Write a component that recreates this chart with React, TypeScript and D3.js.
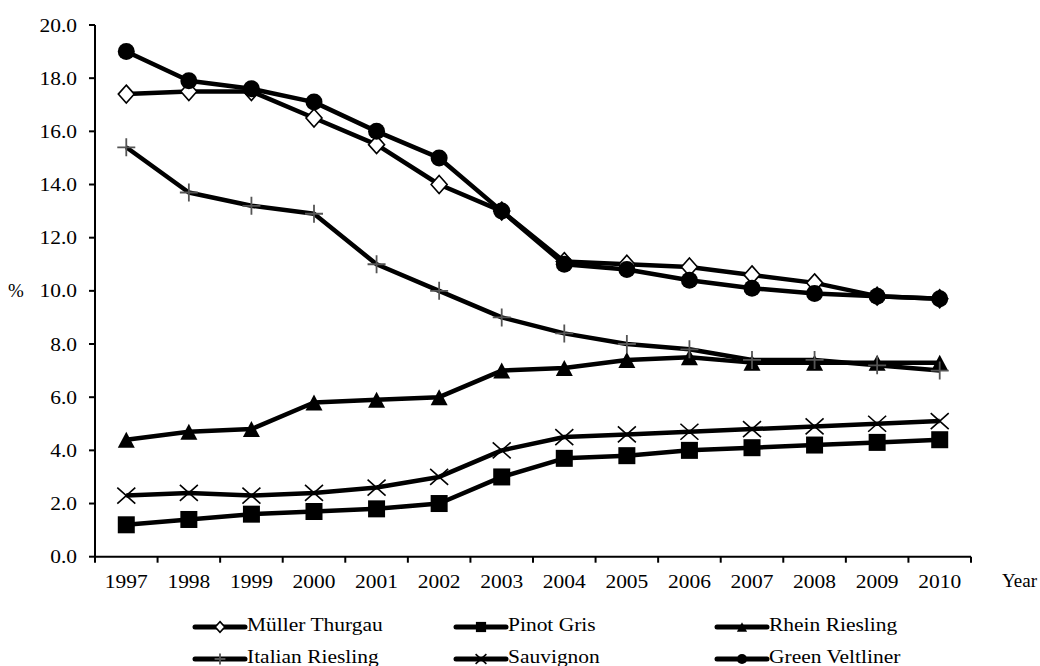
import React, { useRef, useEffect } from 'react';
import * as d3 from 'd3';

const years: string[] = ['1997', '1998', '1999', '2000', '2001', '2002', '2003', '2004', '2005', '2006', '2007', '2008', '2009', '2010'];
const yTicks: number[] = [0, 2, 4, 6, 8, 10, 12, 14, 16, 18, 20];

const mullerThurgau: number[] = [17.4, 17.5, 17.5, 16.5, 15.5, 14.0, 13.0, 11.1, 11.0, 10.9, 10.6, 10.3, 9.8, 9.7];
const pinotGris: number[] = [1.2, 1.4, 1.6, 1.7, 1.8, 2.0, 3.0, 3.7, 3.8, 4.0, 4.1, 4.2, 4.3, 4.4];
const rheinRiesling: number[] = [4.4, 4.7, 4.8, 5.8, 5.9, 6.0, 7.0, 7.1, 7.4, 7.5, 7.3, 7.3, 7.3, 7.3];
const italianRiesling: number[] = [15.4, 13.7, 13.2, 12.9, 11.0, 10.0, 9.0, 8.4, 8.0, 7.8, 7.4, 7.4, 7.2, 7.0];
const sauvignon: number[] = [2.3, 2.4, 2.3, 2.4, 2.6, 3.0, 4.0, 4.5, 4.6, 4.7, 4.8, 4.9, 5.0, 5.1];
const greenVeltliner: number[] = [19.0, 17.9, 17.6, 17.1, 16.0, 15.0, 13.0, 11.0, 10.8, 10.4, 10.1, 9.9, 9.8, 9.7];

type Marker = 'diamond' | 'square' | 'triangle' | 'plus' | 'cross' | 'circle';

interface ISeries {
    name: string;
    values: number[];
    marker: Marker;
}

const series: ISeries[] = [
    { name: 'Müller Thurgau', values: mullerThurgau, marker: 'diamond' },
    { name: 'Pinot Gris', values: pinotGris, marker: 'square' },
    { name: 'Rhein Riesling', values: rheinRiesling, marker: 'triangle' },
    { name: 'Italian Riesling', values: italianRiesling, marker: 'plus' },
    { name: 'Sauvignon', values: sauvignon, marker: 'cross' },
    { name: 'Green Veltliner', values: greenVeltliner, marker: 'circle' },
];

const FONT = "'Liberation Serif', 'DejaVu Serif', serif";
const STRETCH = 1.13;

// draws one marker centred on 0,0; k scales it (legend uses smaller ones)
function drawMarker(g: any, marker: Marker, k: number) {
    if (marker === 'circle') {
        g.append('circle').attr('r', 8.5 * k).attr('fill', '#000');
    } else if (marker === 'square') {
        const s = 17 * k;
        g.append('rect').attr('x', -s / 2).attr('y', -s / 2).attr('width', s).attr('height', s).attr('fill', '#000');
    } else if (marker === 'triangle') {
        const w = 8.5 * k, h = 8 * k;
        g.append('path').attr('d', `M0,${-h}L${w},${h}L${-w},${h}Z`).attr('fill', '#000');
    } else if (marker === 'diamond') {
        const w = 8 * k, h = 9 * k;
        g.append('path').attr('d', `M0,${-h}L${w},0L0,${h}L${-w},0Z`)
            .attr('fill', '#fff').attr('stroke', '#000').attr('stroke-width', 1.6);
    } else if (marker === 'plus') {
        const w = 9 * k, h = 9 * k;
        g.append('path').attr('d', `M${-w},0H${w}M0,${-h}V${h}`)
            .attr('stroke', '#555').attr('stroke-width', 1.8).attr('fill', 'none');
    } else if (marker === 'cross') {
        const w = 9 * k, h = 8 * k;
        g.append('path').attr('d', `M${-w},${-h}L${w},${h}M${-w},${h}L${w},${-h}`)
            .attr('stroke', '#000').attr('stroke-width', 1.6).attr('fill', 'none');
    }
}

function App() {
    const d3Container = useRef(null);
    const width = 1040;
    const height = 666;

    useEffect(() => {
        if (!d3Container.current) return;
        const svg: any = d3.select(d3Container.current);
        svg.selectAll('*').remove();

        const x = d3.scaleBand().domain(years).range([95, 971]).padding(0);
        const y = d3.scaleLinear().domain([0, 20]).range([556.7, 25]);
        const cx = (d: string) => (x(d) as number) + x.bandwidth() / 2;

        // text with the slightly wide look of the original
        const label = (px: number, py: number, txt: string, anchor: string, sx: number = STRETCH) =>
            svg.append('text')
                .attr('transform', `translate(${px},${py}) scale(${sx},1)`)
                .attr('text-anchor', anchor)
                .style('font-family', FONT)
                .style('font-size', '19px')
                .attr('fill', '#000')
                .text(txt);

        // y axis
        svg.append('line').attr('x1', 95).attr('x2', 95).attr('y1', y(20)).attr('y2', y(0))
            .attr('stroke', '#000').attr('stroke-width', 2);
        yTicks.forEach(t => {
            svg.append('line').attr('x1', 89).attr('x2', 95).attr('y1', y(t)).attr('y2', y(t))
                .attr('stroke', '#000').attr('stroke-width', 2);
            label(77, y(t) + 6.5, d3.format('.1f')(t), 'end');
        });
        label(8, y(10) + 6.5, '%', 'start', 1);

        // x axis, ticks between categories
        svg.append('line').attr('x1', 94).attr('x2', 971).attr('y1', y(0)).attr('y2', y(0))
            .attr('stroke', '#000').attr('stroke-width', 2);
        const bounds = years.map(d => x(d) as number).concat([x.range()[1]]);
        bounds.forEach(b => {
            svg.append('line').attr('x1', b).attr('x2', b).attr('y1', y(0)).attr('y2', y(0) + 6)
                .attr('stroke', '#000').attr('stroke-width', 2);
        });
        years.forEach(d => label(cx(d), 588, d, 'middle'));
        label(1002, 587, 'Year', 'start', 1);

        // series
        const line = d3.line<number>()
            .x((_, i) => cx(years[i]))
            .y(v => y(v));

        series.forEach(s => {
            const g = svg.append('g');
            g.append('path')
                .attr('d', line(s.values))
                .attr('fill', 'none')
                .attr('stroke', '#000')
                .attr('stroke-width', 4.5)
                .attr('stroke-linejoin', 'round');
            s.values.forEach((v, i) => {
                const m = g.append('g').attr('transform', `translate(${cx(years[i])},${y(v)})`);
                drawMarker(m, s.marker, 1);
            });
        });

        // legend, 3 columns by 2 rows (second row runs off the bottom as in the original)
        const colX = [195, 456, 717];
        const rowY = [627, 659];
        series.forEach((s, i) => {
            const lx = colX[i % 3];
            const ly = rowY[Math.floor(i / 3)];
            svg.append('line').attr('x1', lx).attr('x2', lx + 50).attr('y1', ly).attr('y2', ly)
                .attr('stroke', '#000').attr('stroke-width', 5).attr('stroke-linecap', 'round');
            const m = svg.append('g').attr('transform', `translate(${lx + 25},${ly})`);
            drawMarker(m, s.marker, 0.6);
            label(lx + 52, ly + 4, s.name, 'start');
        });
    }, []);

    return (
        <svg
            width={width}
            height={height}
            ref={d3Container}
            style={{ position: 'absolute', left: 0, top: 0, background: '#fff' }}
        />
    );
}

export default App;
